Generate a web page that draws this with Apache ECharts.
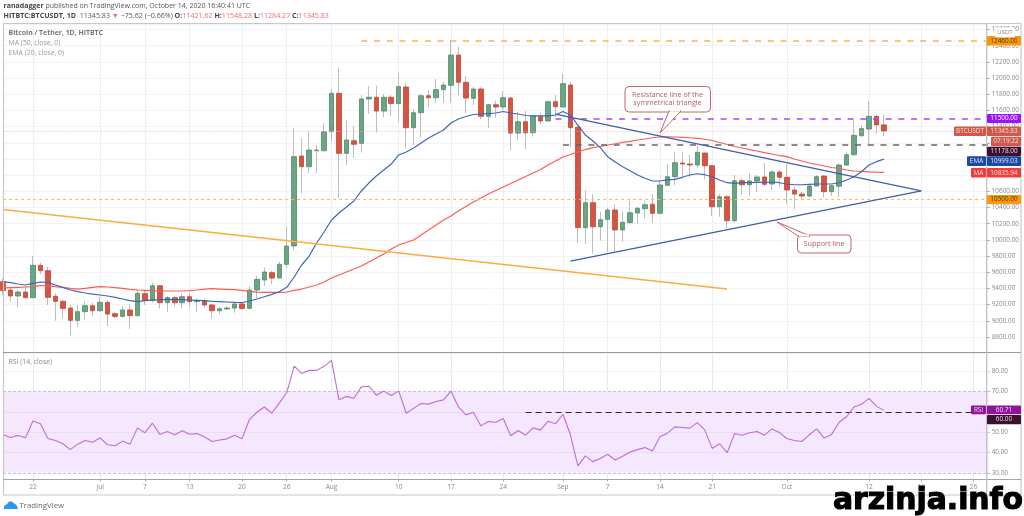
<!DOCTYPE html>
<html><head><meta charset="utf-8"><title>BTCUSDT</title>
<style>html,body{margin:0;padding:0;background:#fff}#c{width:1024px;height:516px;filter:blur(0.3px)}</style>
<script src="https://cdn.jsdelivr.net/npm/echarts@6/dist/echarts.min.js"></script>
</head><body><div id="c"></div>
<script>
const startDate = '2020-06-18', totalDays = 133;
const tickDates = ['2020-06-22','2020-07-01','2020-07-07','2020-07-13','2020-07-20','2020-07-26','2020-08-01','2020-08-10','2020-08-17','2020-08-24','2020-09-01','2020-09-07','2020-09-14','2020-09-21','2020-10-01','2020-10-12','2020-10-19','2020-10-26'];
const tickLabels = ['22','Jul','7','13','20','26','Aug','10','17','24','Sep','7','14','21','Oct','12','19','26'];
const opens = [9484,9381,9307,9356,9286,9686,9620,9303,9241,9158,9006,9113,9187,9125,9228,9088,9055,9134,9064,9336,9253,9434,9224,9286,9224,9298,9237,9249,9196,9125,9146,9158,9208,9154,9381,9505,9595,9529,9698,9925,11037,10905,11103,11103,11338,11812,11070,11226,11194,11742,11763,11593,11763,11684,11890,11387,11572,11782,11758,11857,11911,12285,11948,11750,11865,11528,11671,11643,11754,11321,11461,11325,11523,11470,11708,11643,11915,11392,10151,10460,10163,10255,10370,10123,10213,10333,10386,10440,10329,10675,10781,10951,10938,10926,11074,10917,10411,10534,10238,10732,10682,10728,10778,10691,10839,10774,10617,10567,10543,10666,10790,10596,10663,10926,11053,11288,11371,11528,11421.62];
const closes = [9373,9307,9356,9286,9686,9620,9290,9241,9154,9006,9113,9187,9125,9228,9084,9055,9134,9064,9340,9253,9434,9224,9286,9224,9298,9237,9253,9196,9125,9150,9158,9208,9154,9381,9513,9603,9529,9698,9925,11029,10905,11111,11111,11338,11812,11070,11235,11182,11742,11763,11593,11763,11684,11894,11387,11572,11782,11758,11857,11915,12285,11948,11754,11865,11528,11671,11643,11758,11321,11461,11325,11532,11470,11708,11646,11931,11387,10153,10460,10163,10250,10370,10123,10218,10336,10391,10435,10329,10679,10781,10954,10938,10926,11083,10917,10411,10534,10238,10732,10682,10728,10778,10687,10839,10774,10617,10567,10543,10666,10781,10596,10670,10926,11053,11293,11375,11528,11421,11345.83];
const lows = [9319,9237,9167,9278,9278,9579,9196,9002,9031,8821,8928,9018,9060,9113,8936,9031,9043,8899,9060,9196,9224,9154,9113,9175,9154,9167,9113,9167,9031,9084,9134,9101,9134,9142,9278,9430,9455,9525,9653,9875,10580,10827,10827,11090,11214,10518,10926,11012,11078,11556,11325,11519,11532,11454,11132,11173,11268,11639,11688,11696,11696,11791,11565,11667,11491,11380,11510,11606,11111,11235,11120,11276,11420,11461,11523,11639,11152,9962,9950,9838,9990,9854,9854,9978,10205,10197,10267,10213,10320,10666,10679,10762,10774,10885,10749,10296,10287,10144,10213,10555,10543,10596,10658,10617,10658,10444,10379,10493,10514,10658,10527,10543,10527,10917,11046,11276,11186,11309,11284.27];
const highs = [9525,9422,9389,9422,9801,9719,9669,9340,9257,9195,9195,9237,9224,9298,9257,9101,9183,9208,9389,9381,9472,9443,9307,9307,9340,9340,9278,9278,9208,9167,9183,9237,9224,9430,9554,9661,9620,9731,10163,11383,11260,11350,11173,11445,11865,12128,11482,11408,11791,11902,11906,11803,11791,12067,11936,11618,11803,11853,11989,11955,12471,12388,12026,11894,11886,11680,11721,11837,11770,11581,11593,11544,11572,11721,11791,12051,11955,11420,10617,10567,10349,10394,10440,10349,10485,10411,10485,10567,10741,10938,11090,11090,11050,11161,11078,10926,10567,10555,10802,10762,10827,10802,10947,10864,10864,10934,10658,10592,10700,10802,10802,10679,10947,11090,11482,11420,11721,11544,11548.28];
const ema20 = [9484,9472,9455,9443,9463,9480,9476,9443,9414,9381,9360,9344,9331,9319,9307,9290,9270,9249,9237,9249,9257,9261,9266,9261,9261,9257,9253,9249,9241,9237,9233,9228,9224,9245,9270,9298,9327,9360,9414,9542,9690,9801,9962,10098,10246,10333,10407,10481,10605,10703,10790,10864,10938,11050,11087,11136,11198,11260,11309,11359,11445,11494,11525,11550,11556,11562,11569,11587,11569,11556,11538,11532,11532,11532,11544,11587,11544,11420,11297,11226,11140,11029,10963,10905,10855,10802,10762,10728,10728,10741,10749,10774,10802,10818,10806,10781,10741,10707,10700,10707,10707,10712,10712,10716,10707,10691,10682,10682,10687,10691,10691,10691,10707,10741,10781,10843,10926,10967,10999.03];
const ma50 = [9406,9410,9414,9418,9422,9434,9434,9422,9414,9401,9393,9401,9414,9422,9418,9410,9401,9389,9381,9377,9373,9369,9369,9369,9369,9373,9381,9393,9397,9393,9389,9385,9377,9364,9356,9352,9352,9352,9356,9377,9393,9418,9443,9480,9529,9566,9603,9640,9677,9727,9776,9826,9888,9937,9968,9999,10061,10123,10184,10246,10296,10357,10413,10469,10518,10568,10611,10654,10697,10741,10784,10827,10870,10926,10975,11025,11056,11087,11117,11140,11155,11173,11189,11206,11219,11235,11247,11263,11272,11274,11272,11268,11263,11256,11244,11229,11204,11179,11155,11136,11117,11099,11080,11062,11043,11029,11000,10975,10951,10932,10914,10895,10883,10864,10852,10846,10840,10837,10835.94];
const rsi = [48.7,47.4,48.4,47.2,55.5,54.1,46.9,45.9,44.3,41.4,44.1,45.9,45,47.2,43.8,43.3,45.6,44.1,52.1,49.7,54.4,48.9,50.3,48.7,50.7,49,49.3,47.6,45.4,46.1,46.7,48.5,46.7,56.2,59.8,62.4,59.3,64.3,69.5,82.5,78.9,80.4,80.4,82.4,85.3,65.9,67.6,66.7,72.3,72.6,68.2,70.2,68,70.3,59.3,61.7,64.1,63.8,65.1,65.9,70.2,62.4,58.5,59.8,53.1,55.2,54.9,56.7,48.2,50.8,48.5,52.1,51,55.4,54.1,58.8,48.7,33.4,38.3,35.5,37,39.1,36.3,38.1,40.2,41.4,42.4,40.7,47.7,49.5,52.6,52.3,52,54.7,51.1,42,44.3,39.9,49.3,48.5,49.7,50.3,48.5,51.6,49.8,46.9,45.9,45.4,48.7,51.6,47.1,48.9,54.9,57.6,62.4,63.7,66.6,62.8,60.71];
const priceTicks = [8800,9000,9200,9400,9600,9800,10000,10200,10400,10600,10800,11000,11200,11400,11600,11800,12000,12200,12400,12600];
const rsiTicks = [30,40,50,60,70,80];
const levelTop = 12460, levelBase = 10500, levelPurple = 11500, levelBlack = 11178, lastPrice = 11345.83, rsiLevel = 60;
const orangeTrend = [['2020-06-18',10376],['2020-09-23',9393]];
const resistanceLine = [['2020-08-31',11556],['2020-10-19',10605]];
const supportLine = [['2020-09-02',9739],['2020-10-19',10605]];

const categories = [];
for (let i = 0; i < totalDays; i++) {
  const d = new Date(Date.parse(startDate + 'T00:00:00Z') + i * 86400000);
  categories.push(d.toISOString().slice(0, 10));
}
const lastCat = categories[categories.length - 1];
const isTick = (idx, val) => tickDates.indexOf(val) >= 0;
const fnt = '"Open Sans","Noto Sans",sans-serif';
const candleData = opens.map((o, i) => [o, closes[i], lows[i], highs[i]]);
const bodyData = opens.map((o, i) => [o, closes[i], Math.min(o, closes[i]), Math.max(o, closes[i])]);
const seg = (a, b, style) => [{ coord: a, lineStyle: style }, { coord: b }];

const chart = echarts.init(document.getElementById('c'));

function tag(x1, y1, x2, y2, color, text, fill) {
  return [
    { type: 'rect', z: 50, shape: { x: x1, y: y1, width: x2 - x1, height: y2 - y1, r: 1 }, style: { fill: color } },
    { type: 'text', z: 51, style: { x: (x1 + x2) / 2, y: (y1 + y2) / 2, text: text, fill: fill || '#fff', font: '6.4px ' + fnt, align: 'center', verticalAlign: 'middle' } }
  ];
}
function txt(x, y, text, font, fill) {
  return { type: 'text', z: 40, style: { x: x, y: y, text: text, font: font + ' ' + fnt, fill: fill, verticalAlign: 'middle' } };
}
function line(x1, y1, x2, y2, c, w) {
  return { type: 'line', z: 30, shape: { x1: x1, y1: y1, x2: x2, y2: y2 }, style: { stroke: c, lineWidth: w } };
}
const calloutColor = '#c4656b', calloutText = '#b95a5e';
const graphics = [
  { type: 'rect', z: 29, shape: { x: 3.5, y: 23.5, width: 1017.5, height: 471.5 }, style: { fill: 'none', stroke: '#c8c8c8', lineWidth: 1.2 } },
  line(3, 352.5, 1021, 352.5, '#9a9a9a', 1),
  line(3, 479.5, 1021, 479.5, '#a4a4a4', 1),
  line(986.7, 24, 986.7, 495, '#bdbdbd', 1.2),
  { type: 'text', z: 40, style: { x: 3.5, y: 6, verticalAlign: 'middle', font: '7px ' + fnt, fill: '#555',
      text: '{b|ranadagger} published on TradingView.com, October 14, 2020 16:40:41 UTC',
      rich: { b: { font: 'bold 7px ' + fnt, fill: '#444' } } } },
  { type: 'text', z: 40, style: { x: 3.5, y: 15.6, verticalAlign: 'middle', font: '7.1px ' + fnt, fill: '#555',
      text: '{b|HITBTC:BTCUSDT, 1D}  11345.83 {r|▼} −75.62 (−0.66%) {b|O:}{r|11421.62} {b|H:}{r|11548.28} {b|L:}{r|11284.27} {b|C:}{r|11345.83}',
      rich: { b: { font: 'bold 7.1px ' + fnt, fill: '#444' }, r: { font: '7.1px ' + fnt, fill: '#f26a6a' } } } },
  txt(8.5, 33.5, 'Bitcoin / Tether, 1D, HITBTC', 'bold 6.9px', '#777'),
  txt(8.5, 43.5, 'MA (50, close, 0)', '6.9px', '#999'),
  txt(8.5, 53.5, 'EMA (20, close, 0)', '6.9px', '#999'),
  txt(8.5, 362, 'RSI (14, close)', '6.9px', '#888'),
  ...tag(987, 36, 1021, 45.5, '#ff9800', '12460.00', '#4a3a20'),
  { type: 'rect', z: 52, shape: { x: 995, y: 27.3, width: 20, height: 10, r: 1.5 }, style: { fill: '#fff', stroke: '#ddd', lineWidth: 0.5 } },
  { type: 'text', z: 53, style: { x: 1005, y: 32.5, text: 'USDT', font: '6px ' + fnt, fill: '#888', align: 'center', verticalAlign: 'middle' } },
  ...tag(987, 114, 1021, 123, '#9c12ff', '11500.00'),
  ...tag(954, 126.5, 986, 136, '#cf5a4b', 'BTCUSDT', '#f7d8d4'),
  ...tag(987, 126.5, 1021, 136, '#cf5a4b', '11345.83', '#f7d8d4'),
  ...tag(991, 136.7, 1021, 146.3, '#cf5a4b', '07:19:22', '#f7d8d4'),
  ...tag(987, 146.7, 1021, 156, '#3b1030', '11178.00', '#e6dce4'),
  ...tag(967, 156.2, 986, 166, '#1b4aa3', 'EMA', '#dbe6fa'),
  ...tag(987, 156.2, 1021, 166, '#1b4aa3', '10999.03', '#dbe6fa'),
  ...tag(971, 168, 986, 177.5, '#f23c3c', 'MA', '#ffe0e0'),
  ...tag(987, 168, 1021, 177.5, '#f23c3c', '10835.94', '#ffe0e0'),
  ...tag(987, 195, 1021, 204, '#ff9800', '10500.00', '#4a3a20'),
  ...tag(971, 405.5, 986, 414.2, '#8e1599', 'RSI', '#f3d8f6'),
  ...tag(987, 405.5, 1021, 414.2, '#8e1599', '60.71', '#f3d8f6'),
  ...tag(987, 415, 1021, 424.3, '#3b1030', '60.00', '#e6dce4'),
  { type: 'polygon', z: 43, shape: { points: [[660, 133], [669, 111], [681, 111]] }, style: { fill: '#fff', stroke: calloutColor, lineWidth: 1 } },
  { type: 'rect', z: 42, shape: { x: 625, y: 86.5, width: 85.5, height: 25.5, r: 4 }, style: { fill: '#fff', stroke: calloutColor, lineWidth: 1 } },
  { type: 'rect', z: 44, shape: { x: 670, y: 110, width: 10, height: 1.6 }, style: { fill: '#fff' } },
  { type: 'text', z: 45, style: { x: 667.5, y: 99, text: 'Resistance line of the\nsymmetrical triangle', font: '7.2px ' + fnt, lineHeight: 8, fill: calloutText, align: 'center', verticalAlign: 'middle' } },
  { type: 'polygon', z: 43, shape: { points: [[777, 222], [798, 236], [810, 236]] }, style: { fill: '#fff', stroke: calloutColor, lineWidth: 1 } },
  { type: 'rect', z: 42, shape: { x: 797.5, y: 235, width: 53.5, height: 18, r: 4 }, style: { fill: '#fff', stroke: calloutColor, lineWidth: 1 } },
  { type: 'rect', z: 44, shape: { x: 799, y: 234.5, width: 10, height: 1.6 }, style: { fill: '#fff' } },
  { type: 'text', z: 45, style: { x: 824, y: 244, text: 'Support line', font: '7.2px ' + fnt, fill: calloutText, align: 'center', verticalAlign: 'middle' } },
  { type: 'polygon', z: 40, shape: { points: [[4,509],[4,506],[7,504],[9,501.5],[12,501.5],[14,503.5],[16.5,505],[18,509]] }, style: { fill: '#2a9ae6' } },
  txt(19.5, 505.5, 'TradingView', '7.8px', '#666'),
  { type: 'text', z: 60, style: { x: 1023, y: 501.5, text: 'arzinja.info', font: '900 29.8px "DejaVu Sans",sans-serif', fill: '#000', stroke: '#000', lineWidth: 1.1, align: 'right', verticalAlign: 'middle' } }
];

chart.setOption({
  animation: false,
  backgroundColor: '#fff',
  graphic: graphics,
  grid: [
    { left: 3.1, width: 985.3, top: 24.7, height: 328.5 },
    { left: 3.1, width: 985.3, top: 352.5, height: 127 }
  ],
  xAxis: [
    { type: 'category', gridIndex: 0, data: categories, boundaryGap: false,
      axisLine: { show: false }, axisTick: { show: false }, axisLabel: { show: false },
      splitLine: { show: true, interval: isTick, lineStyle: { color: '#edf0f3', width: 1 } } },
    { type: 'category', gridIndex: 1, data: categories, boundaryGap: false,
      axisLine: { show: false }, axisTick: { show: true, interval: isTick, length: 2, lineStyle: { color: '#aaa' } },
      axisLabel: { show: true, interval: isTick, margin: 4.5, color: '#888', fontSize: 6.6, fontFamily: fnt,
        formatter: v => { const k = tickDates.indexOf(v); return k >= 0 ? tickLabels[k] : ''; } },
      splitLine: { show: true, interval: isTick, lineStyle: { color: '#ebe6f0', width: 1 } } }
  ],
  yAxis: [
    { type: 'value', gridIndex: 0, position: 'right', offset: -1.7, min: 8600, max: 12660, interval: 200, scale: true,
      axisLine: { show: false }, axisTick: { show: true, length: 3, lineStyle: { color: '#aaa' } },
      axisLabel: { inside: false, margin: 5, showMinLabel: false, showMaxLabel: false, color: '#888', fontSize: 6.4, fontFamily: fnt, formatter: v => priceTicks.indexOf(v) >= 0 ? v.toFixed(2) : '' },
      splitLine: { show: true, lineStyle: { color: '#f1f3f6', width: 1 } } },
    { type: 'value', gridIndex: 1, position: 'right', offset: -1.7, min: 26.7, max: 89.2,
      axisLine: { show: false }, axisTick: { show: true, length: 3, customValues: rsiTicks, lineStyle: { color: '#aaa' } },
      axisLabel: { margin: 5, customValues: rsiTicks, color: '#888', fontSize: 6.4, fontFamily: fnt, formatter: v => v.toFixed(2) },
      splitLine: { show: false } }
  ],
  series: [
    { name: 'wicks', type: 'candlestick', xAxisIndex: 0, yAxisIndex: 0, data: candleData, barWidth: 1, z: 3,
      itemStyle: { color: '#bdbdbd', color0: '#bdbdbd', borderColor: '#bdbdbd', borderColor0: '#bdbdbd', borderWidth: 1 } },
    { name: 'BTCUSDT', type: 'candlestick', xAxisIndex: 0, yAxisIndex: 0, data: bodyData, barWidth: 5, z: 4,
      itemStyle: { color: '#6ba583', color0: '#d75442', borderColor: '#4f8a69', borderColor0: '#c04635', borderColorDoji: '#4f8a69', borderWidth: 0.8 },
      markLine: { silent: true, symbol: 'none', label: { show: false }, animation: false, z: 6, data: [
        [{ coord: [startDate, lastPrice], lineStyle: { type: 'dotted', color: '#eeb4ae', width: 0.7 } }, { coord: [lastCat, lastPrice] }],
        seg(['2020-08-05', levelTop], [lastCat, levelTop], { type: [6, 6.7], color: '#ffb04a', width: 1.5 }),
        seg([startDate, levelBase], [lastCat, levelBase], { type: [3, 3], color: '#ffb860', width: 1 }),
        seg(['2020-08-31', levelPurple], [lastCat, levelPurple], { type: [6, 6.7], color: '#b040ff', width: 1.5 }),
        seg(['2020-09-01', levelBlack], [lastCat, levelBlack], { type: [6, 6.7], color: '#666', width: 1.5 }),
        seg(orangeTrend[0], orangeTrend[1], { type: 'solid', color: '#ffaa3c', width: 1.4 }),
        seg(resistanceLine[0], resistanceLine[1], { type: 'solid', color: '#3f5ea6', width: 1.3 }),
        seg(supportLine[0], supportLine[1], { type: 'solid', color: '#3f5ea6', width: 1.3 })
      ] } },
    { name: 'MA', type: 'line', xAxisIndex: 0, yAxisIndex: 0, data: ma50, symbol: 'none', z: 5, lineStyle: { color: '#ff5a52', width: 1.2 } },
    { name: 'EMA', type: 'line', xAxisIndex: 0, yAxisIndex: 0, data: ema20, symbol: 'none', z: 5, lineStyle: { color: '#3f66b8', width: 1.2 } },
    { name: 'RSI', type: 'line', xAxisIndex: 1, yAxisIndex: 1, data: rsi, symbol: 'none', z: 5, lineStyle: { color: '#bb6fd8', width: 1.1 },
      markArea: { silent: true, itemStyle: { color: '#f5e7fd' }, label: { show: false }, z: 1, data: [[{ yAxis: 30 }, { yAxis: 70 }]] },
      markLine: { silent: true, symbol: 'none', label: { show: false }, animation: false, data: [
        { yAxis: 30, lineStyle: { type: [3, 2], color: '#bfaec9', width: 0.8 } },
        { yAxis: 70, lineStyle: { type: [3, 2], color: '#bfaec9', width: 0.8 } },
        { yAxis: 40, lineStyle: { type: 'solid', color: '#eadcf2', width: 1 } },
        { yAxis: 50, lineStyle: { type: 'solid', color: '#eadcf2', width: 1 } },
        { yAxis: 60, lineStyle: { type: 'solid', color: '#eadcf2', width: 1 } },
        { yAxis: 80, lineStyle: { type: 'solid', color: '#f3f3f5', width: 1 } },
        seg(['2020-08-27', rsiLevel], [lastCat, rsiLevel], { type: [6, 4], color: '#3a2030', width: 1.1 })
      ] } }
  ]
});
</script></body></html>
